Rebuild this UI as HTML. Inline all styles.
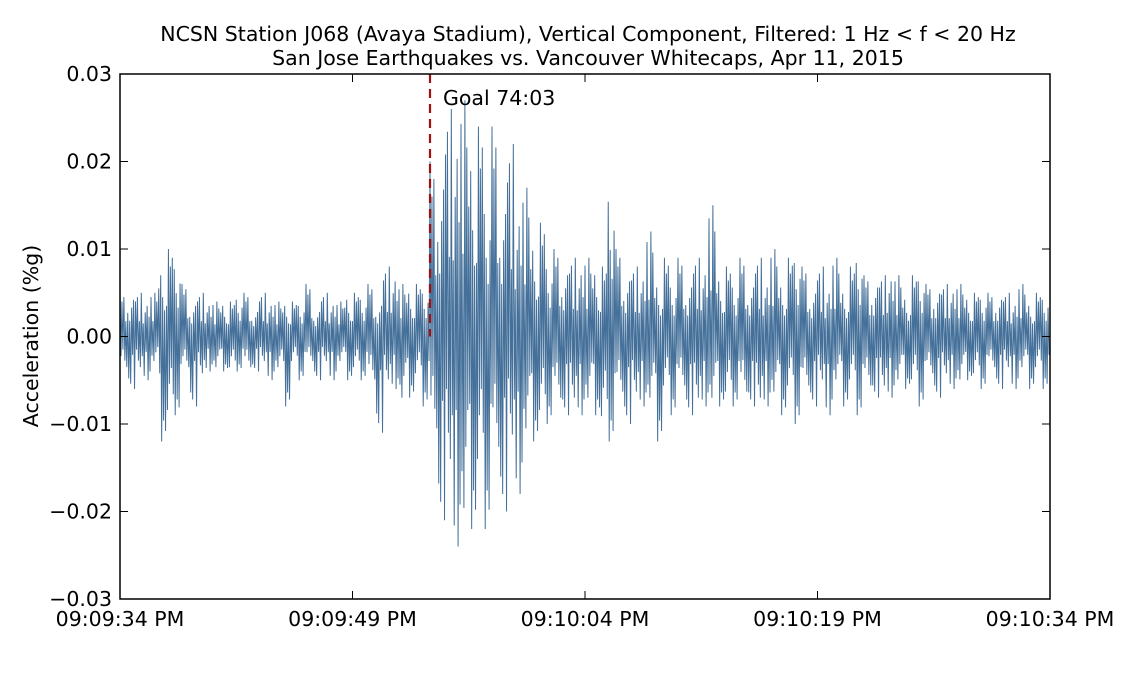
<!DOCTYPE html>
<html><head><meta charset="utf-8"><style>
html,body{margin:0;padding:0;background:#fff;}
svg{display:block;font-family:"DejaVu Sans","Liberation Sans",sans-serif;}
</style></head><body>
<svg id="chart" width="1125" height="675" viewBox="0 0 1125 675">
<text x="588" y="41" font-size="20.5" text-anchor="middle">NCSN Station J068 (Avaya Stadium), Vertical Component, Filtered: 1 Hz &lt; f &lt; 20 Hz</text>
<text x="588" y="65" font-size="20.5" text-anchor="middle">San Jose Earthquakes vs. Vancouver Whitecaps, Apr 11, 2015</text>
<text transform="translate(38,336) rotate(-90)" font-size="20.5" text-anchor="middle">Acceleration (%g)</text>
<g id="series"></g>
<g id="axes"></g>
</svg>
<script>
// Envelope of the waveform in 0.5 s bins (units of 0.001 %g)
const upper = [5,6,5,5,5, 10,10,11, 6,5,5, 5,4,5,4,6,5,4,5,5,4, 5, 4,5,6,4,5,5,4,6,5, 6,6,5,8,9,6,7,6,7,
 20,24,26,29,27,27,24,20,24,20,22,18,17,14, 13,11,10,10,9,10, 9,10,8,22,10,9, 8,9,12,8,9,8,9,8,9,10,
 15,9,8, 8,9,8,9,8,10,8,9,12,8, 7,8,7,9,7,8,12,7,8,7,9,7, 6,7,9,6,7,6,7,6,6,5,6, 5,6,5,5,6,5,5,6];
const lower = [-5,-6,-5,-5,-4, -12,-12,-9, -5,-8,-6, -4,-5,-4,-5,-4,-5,-4,-4,-5,-5, -8, -4,-5,-4,-5,-4,-5,-4,-5,-5,
 -5,-7,-11,-7,-6,-10,-7,-6,-8, -15,-21,-20,-24,-28,-22,-20,-22,-18,-20,-16,-18,-15,-12,
 -12,-10,-10,-9,-10,-9, -10,-9,-13,-12,-9,-10, -9,-8,-10,-12,-8,-9,-8,-9,-10,-8, -10,-8,-9,
 -8,-9,-8,-10,-8,-9,-9,-8,-10,-8, -8,-7,-9,-7,-8,-7,-9,-8,-7,-8,-7,-7, -6,-7,-8,-6,-7,-6,-6,-7,-5,-6,-6,
 -5,-6,-5,-6,-5,-6,-5,-6];
const yTicks = [0.03,0.02,0.01,0.00,-0.01,-0.02,-0.03];
const yTickLabels = ["0.03","0.02","0.01","0.00","\u22120.01","\u22120.02","\u22120.03"];
const xTicks = [0,15,30,45,60];
const xTickLabels = ["09:09:34 PM","09:09:49 PM","09:10:04 PM","09:10:19 PM","09:10:34 PM"];
const goalTime = 20;
const goalLabel = "Goal 74:03";
const binSec = 0.5;

const L=120,R=1050,T=74,B=599;
const xs = t => L + (t/60)*(R-L);
const ys = v => B - (v+0.03)/0.06*(B-T);
const NS="http://www.w3.org/2000/svg";
function mk(tag,attrs,parent){const e=document.createElementNS(NS,tag);for(const k in attrs)e.setAttribute(k,attrs[k]);parent.appendChild(e);return e;}

const series=document.getElementById('series');
const frac=[1,0.45,0.8,0.3,0.9,0.55,0.35,0.7];
let pts=[];
for(let i=0;i<upper.length;i++){
  for(let j=0;j<8;j++){
    const t=(i+j/8)*binSec;
    const amp=(j%2===0?upper[i]:lower[i])*frac[(j+i)%8]/1000;
    pts.push(xs(t).toFixed(2)+","+ys(amp).toFixed(2));
  }
}
const line=mk('polyline',{points:pts.join(' '),fill:'none',stroke:'#44709a','stroke-width':1,'stroke-linejoin':'miter'},series);



const gl=mk('line',{x1:xs(goalTime),x2:xs(goalTime),y1:T,y2:ys(0),stroke:'#a01010','stroke-width':2.2,'stroke-dasharray':'9,6'},series);


const gt=mk('text',{x:xs(goalTime)+13,y:105,'font-size':20.5},series);
gt.textContent=goalLabel;



const axes=document.getElementById('axes');
const frame=mk('rect',{x:L,y:T,width:R-L,height:B-T,fill:'none',stroke:'#000','stroke-width':1.5},axes);


yTicks.forEach((v,i)=>{
  const y=ys(v);
  mk('line',{x1:L,x2:L+8,y1:y,y2:y,stroke:'#000'},axes);
  mk('line',{x1:R-8,x2:R,y1:y,y2:y,stroke:'#000'},axes);
  const t=mk('text',{x:L-8,y:y+7,'font-size':20.5,'text-anchor':'end'},axes);
  t.textContent=yTickLabels[i];
  
  
});
xTicks.forEach((v,i)=>{
  const x=xs(v);
  mk('line',{x1:x,x2:x,y1:B,y2:B-8,stroke:'#000'},axes);
  mk('line',{x1:x,x2:x,y1:T,y2:T+8,stroke:'#000'},axes);
  const t=mk('text',{x:x,y:626,'font-size':20.5,'text-anchor':'middle'},axes);
  t.textContent=xTickLabels[i];
  
  
});
</script>
</body></html>
